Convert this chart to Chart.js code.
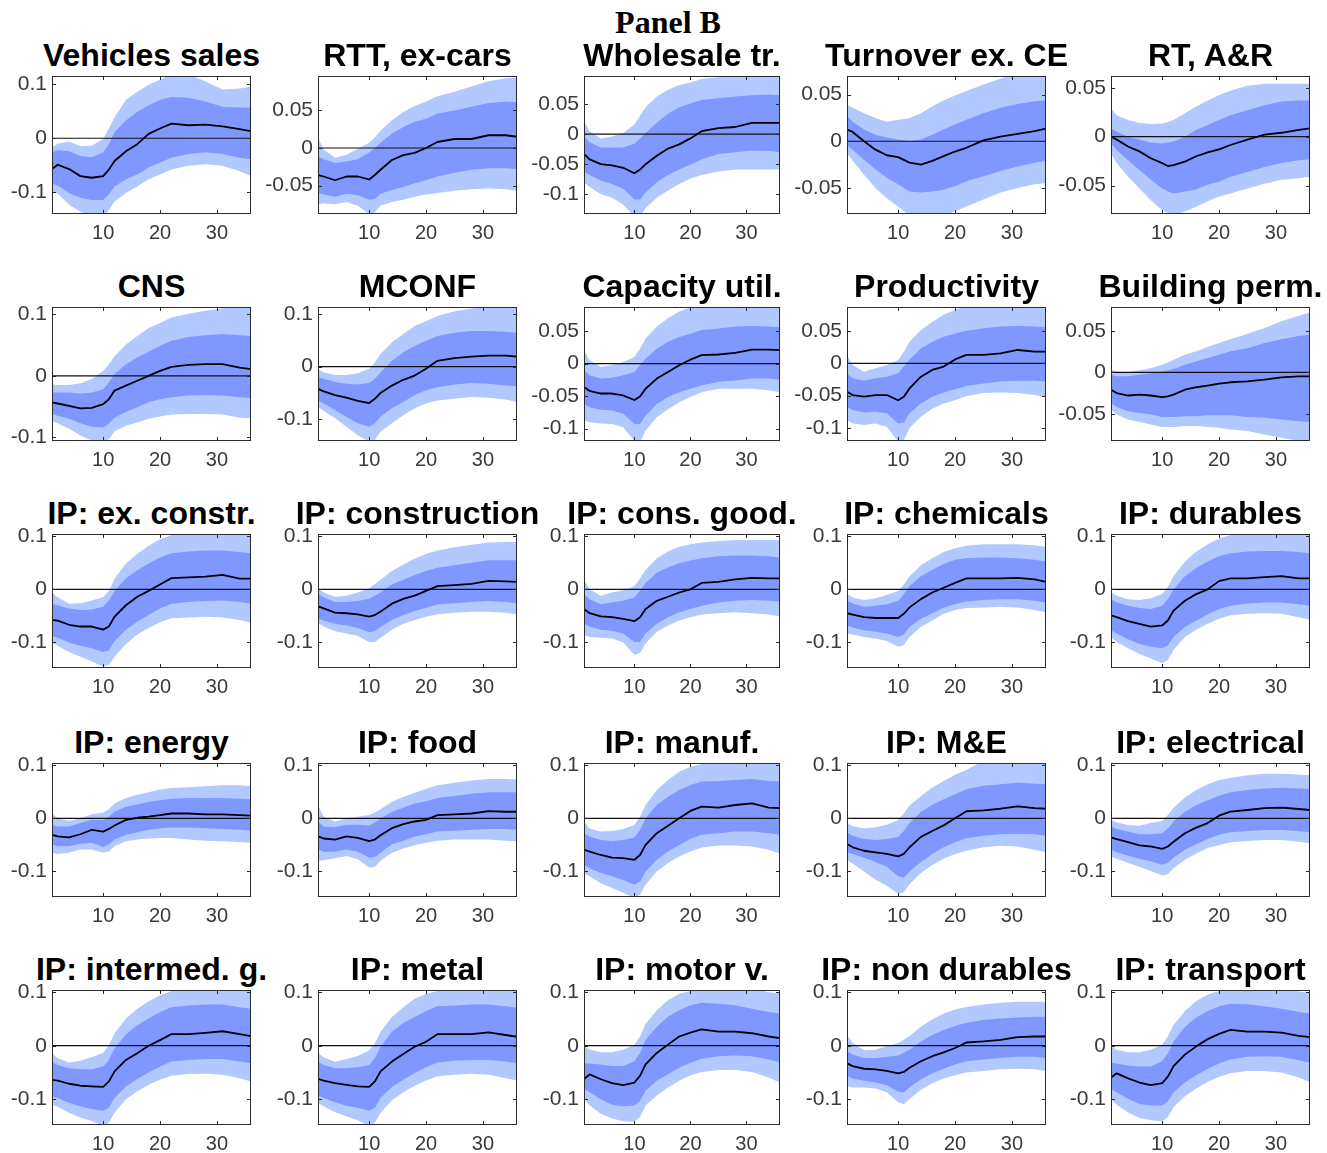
<!DOCTYPE html>
<html><head><meta charset="utf-8">
<script src="https://cdn.jsdelivr.net/npm/chart.js@4.4.0/dist/chart.umd.min.js"></script>
<style>
html,body{margin:0;padding:0;background:#fff;}
body{width:1327px;height:1153px;position:relative;overflow:hidden;font-family:"Liberation Sans",Arial,sans-serif;}
.t{position:absolute;width:320px;text-align:center;font-weight:bold;font-size:32px;line-height:34px;color:#000;white-space:nowrap;}
#pb{position:absolute;left:468px;width:400px;top:4px;text-align:center;font-family:"Liberation Serif","DejaVu Serif",serif;font-weight:bold;font-size:32px;line-height:36px;color:#000;}
canvas{position:absolute;}
</style></head><body>
<div id="pb">Panel B</div>
<script>
// horizon grid (months)
const X = [1,2,4,6,8,10,11,12,14,16,18,20,22,25,28,31,34,36];
const TITLES = ["Vehicles sales","RTT, ex-cars","Wholesale tr.","Turnover ex. CE","RT, A&R",
 "CNS","MCONF","Capacity util.","Productivity","Building perm.",
 "IP: ex. constr.","IP: construction","IP: cons. good.","IP: chemicals","IP: durables",
 "IP: energy","IP: food","IP: manuf.","IP: M&E","IP: electrical",
 "IP: intermed. g.","IP: metal","IP: motor v.","IP: non durables","IP: transport"];
const Y_MIN = [-0.14,-0.088,-0.133,-0.078,-0.079,-0.106,-0.141,-0.119,-0.12,-0.083,
 -0.148,-0.148,-0.148,-0.148,-0.148,-0.148,-0.148,-0.148,-0.148,-0.148,-0.148,-0.148,-0.148,-0.148,-0.148];
const Y_MAX = [0.115,0.096,0.097,0.07,0.062,0.112,0.113,0.087,0.087,0.079,
 0.104,0.104,0.104,0.104,0.104,0.104,0.104,0.104,0.104,0.104,0.104,0.104,0.104,0.104,0.104];
const T1 = [-0.1,0,0.1], T2 = [-0.05,0,0.05], T3 = [-0.1,-0.05,0,0.05];
const Y_TICKS = [T1,T2,T3,T2,T2,T1,T1,T3,T3,T2,T1,T1,T1,T1,T1,T1,T1,T1,T1,T1,T1,T1,T1,T1,T1];
const X_TICKS = [10,20,30];

// med = median, hi1/lo1 = inner band, hi2/lo2 = outer band
const p01_med=[-0.057,-0.049,-0.057,-0.070,-0.073,-0.070,-0.058,-0.042,-0.024,-0.011,0.008,0.018,0.027,0.024,0.025,0.022,0.017,0.013];
const p01_hi1=[-0.026,-0.022,-0.024,-0.033,-0.035,-0.026,-0.011,0.011,0.033,0.049,0.061,0.071,0.076,0.075,0.068,0.058,0.057,0.057];
const p01_lo1=[-0.083,-0.088,-0.101,-0.110,-0.114,-0.114,-0.104,-0.089,-0.076,-0.067,-0.054,-0.045,-0.036,-0.029,-0.026,-0.029,-0.036,-0.039];
const p01_hi2=[-0.017,-0.010,-0.006,-0.015,-0.014,-0.001,0.018,0.039,0.071,0.086,0.099,0.108,0.118,0.118,0.105,0.090,0.092,0.095];
const p01_lo2=[-0.098,-0.102,-0.123,-0.136,-0.145,-0.145,-0.133,-0.117,-0.101,-0.089,-0.076,-0.067,-0.058,-0.051,-0.048,-0.051,-0.061,-0.070];

const p02_med=[-0.036,-0.038,-0.043,-0.038,-0.038,-0.042,-0.036,-0.029,-0.016,-0.0095,-0.0064,0,0.008,0.012,0.012,0.017,0.017,0.015];
const p02_hi1=[-0.011,-0.015,-0.020,-0.018,-0.015,-0.006,0,0.007,0.019,0.028,0.035,0.039,0.046,0.050,0.055,0.060,0.062,0.061];
const p02_lo1=[-0.060,-0.062,-0.065,-0.061,-0.063,-0.069,-0.068,-0.061,-0.056,-0.052,-0.047,-0.043,-0.038,-0.033,-0.029,-0.027,-0.027,-0.028];
const p02_hi2=[0.014,-0.002,-0.013,-0.009,-0.001,0.007,0.014,0.023,0.037,0.048,0.056,0.062,0.069,0.075,0.082,0.089,0.093,0.094];
const p02_lo2=[-0.075,-0.074,-0.075,-0.072,-0.077,-0.088,-0.086,-0.077,-0.072,-0.069,-0.065,-0.062,-0.060,-0.057,-0.055,-0.054,-0.055,-0.057];

const p03_med=[-0.033,-0.042,-0.050,-0.052,-0.056,-0.065,-0.059,-0.050,-0.036,-0.024,-0.017,-0.007,0.005,0.010,0.012,0.019,0.019,0.019];
const p03_hi1=[-0.004,-0.013,-0.022,-0.022,-0.022,-0.016,-0.007,0.002,0.019,0.034,0.045,0.051,0.057,0.060,0.063,0.065,0.066,0.065];
const p03_lo1=[-0.062,-0.068,-0.077,-0.083,-0.091,-0.109,-0.109,-0.097,-0.080,-0.068,-0.059,-0.051,-0.042,-0.033,-0.030,-0.027,-0.028,-0.030];
const p03_hi2=[0.022,0.005,-0.007,-0.004,0.002,0.016,0.031,0.045,0.063,0.074,0.082,0.086,0.092,0.095,0.099,0.100,0.100,0.100];
const p03_lo2=[-0.080,-0.088,-0.100,-0.106,-0.117,-0.138,-0.138,-0.123,-0.106,-0.094,-0.083,-0.074,-0.068,-0.062,-0.059,-0.059,-0.059,-0.059];

const p04_med=[0.0125,0.010,0,-0.009,-0.015,-0.017,-0.020,-0.023,-0.025,-0.021,-0.016,-0.011,-0.007,0.001,0.005,0.008,0.011,0.0135];
const p04_hi1=[0.027,0.021,0.0125,0.007,0.004,0.002,0.001,0,0.002,0.007,0.0125,0.018,0.023,0.030,0.036,0.040,0.043,0.044];
const p04_lo1=[-0.004,-0.009,-0.020,-0.030,-0.039,-0.046,-0.050,-0.054,-0.055,-0.054,-0.052,-0.048,-0.043,-0.0375,-0.032,-0.027,-0.023,-0.021];
const p04_hi2=[0.039,0.036,0.030,0.025,0.021,0.023,0.024,0.025,0.030,0.0375,0.044,0.049,0.054,0.061,0.067,0.073,0.076,0.077];
const p04_lo2=[-0.0125,-0.021,-0.036,-0.050,-0.061,-0.070,-0.075,-0.080,-0.082,-0.082,-0.080,-0.075,-0.070,-0.0625,-0.055,-0.050,-0.046,-0.045];

const p05_med=[0,-0.003,-0.010,-0.015,-0.022,-0.027,-0.030,-0.029,-0.0255,-0.020,-0.016,-0.013,-0.0085,-0.003,0.002,0.004,0.007,0.0085];
const p05_hi1=[0.0085,0.005,0,-0.003,-0.006,-0.007,-0.006,-0.005,0,0.007,0.012,0.017,0.022,0.027,0.032,0.036,0.037,0.037];
const p05_lo1=[-0.007,-0.0135,-0.024,-0.034,-0.044,-0.053,-0.056,-0.058,-0.056,-0.054,-0.049,-0.046,-0.041,-0.036,-0.031,-0.027,-0.024,-0.023];
const p05_hi2=[0.029,0.022,0.017,0.014,0.013,0.0135,0.015,0.017,0.024,0.031,0.037,0.0425,0.047,0.052,0.054,0.054,0.054,0.054];
const p05_lo2=[-0.017,-0.027,-0.041,-0.053,-0.065,-0.075,-0.078,-0.081,-0.0765,-0.0715,-0.066,-0.061,-0.058,-0.053,-0.048,-0.044,-0.0425,-0.041];

const p06_med=[-0.043,-0.045,-0.049,-0.053,-0.052,-0.046,-0.038,-0.024,-0.016,-0.008,0,0.008,0.0146,0.018,0.019,0.019,0.0135,0.011];
const p06_hi1=[-0.027,-0.027,-0.027,-0.029,-0.027,-0.022,-0.011,0.003,0.019,0.030,0.039,0.049,0.057,0.063,0.066,0.068,0.066,0.065];
const p06_lo1=[-0.062,-0.065,-0.070,-0.077,-0.083,-0.084,-0.078,-0.068,-0.059,-0.051,-0.043,-0.038,-0.035,-0.032,-0.031,-0.032,-0.035,-0.036];
const p06_hi2=[-0.0135,-0.015,-0.015,-0.012,-0.005,0.008,0.019,0.032,0.051,0.065,0.078,0.086,0.095,0.101,0.106,0.110,0.112,0.112];
const p06_lo2=[-0.073,-0.077,-0.086,-0.097,-0.105,-0.108,-0.103,-0.090,-0.081,-0.076,-0.070,-0.066,-0.063,-0.062,-0.062,-0.063,-0.068,-0.069];

const p07_med=[-0.042,-0.047,-0.054,-0.059,-0.065,-0.069,-0.061,-0.050,-0.036,-0.025,-0.017,-0.004,0.011,0.016,0.019,0.021,0.021,0.019];
const p07_hi1=[-0.020,-0.023,-0.029,-0.0325,-0.034,-0.031,-0.023,-0.011,0.011,0.027,0.039,0.049,0.058,0.064,0.0675,0.0675,0.066,0.064];
const p07_lo1=[-0.064,-0.070,-0.0825,-0.095,-0.1075,-0.114,-0.1075,-0.095,-0.079,-0.067,-0.054,-0.045,-0.039,-0.034,-0.031,-0.0325,-0.036,-0.0375];
const p07_hi2=[-0.004,-0.011,-0.016,-0.016,-0.0125,-0.004,0.008,0.024,0.046,0.062,0.077,0.086,0.096,0.105,0.110,0.115,0.115,0.115];
const p07_lo2=[-0.076,-0.084,-0.098,-0.114,-0.130,-0.142,-0.139,-0.123,-0.1075,-0.092,-0.079,-0.070,-0.064,-0.061,-0.0575,-0.059,-0.0625,-0.067];

const p08_med=[-0.036,-0.042,-0.046,-0.046,-0.049,-0.056,-0.0505,-0.0387,-0.023,-0.013,-0.0026,0.006,0.013,0.014,0.0165,0.0216,0.0216,0.0206];
const p08_hi1=[-0.0103,-0.018,-0.023,-0.0216,-0.018,-0.013,-0.0026,0.0077,0.023,0.0335,0.041,0.046,0.0515,0.054,0.057,0.058,0.057,0.0557];
const p08_lo1=[-0.062,-0.067,-0.071,-0.072,-0.077,-0.093,-0.093,-0.080,-0.062,-0.0515,-0.044,-0.0387,-0.0335,-0.028,-0.026,-0.023,-0.023,-0.025];
const p08_hi2=[0.0206,0.005,-0.005,-0.0026,0.0026,0.0103,0.023,0.0387,0.057,0.0696,0.080,0.0866,0.090,0.090,0.090,0.090,0.090,0.090];
const p08_lo2=[-0.0876,-0.090,-0.092,-0.093,-0.098,-0.1186,-0.121,-0.103,-0.0825,-0.070,-0.0593,-0.0515,-0.044,-0.0387,-0.0387,-0.0387,-0.041,-0.044];

const p09_med=[-0.044,-0.049,-0.0515,-0.049,-0.049,-0.057,-0.0515,-0.0387,-0.0206,-0.0103,-0.005,0.006,0.013,0.013,0.0155,0.0206,0.018,0.018];
const p09_hi1=[-0.0155,-0.023,-0.0268,-0.023,-0.0206,-0.0155,-0.005,0.006,0.023,0.0335,0.041,0.046,0.0505,0.054,0.057,0.058,0.057,0.0557];
const p09_lo1=[-0.067,-0.072,-0.076,-0.075,-0.077,-0.093,-0.092,-0.077,-0.062,-0.0515,-0.045,-0.040,-0.035,-0.031,-0.028,-0.0268,-0.0268,-0.028];
const p09_hi2=[0.013,-0.0026,-0.013,-0.0077,-0.0026,0.005,0.018,0.0335,0.0515,0.0644,0.075,0.0825,0.090,0.090,0.090,0.090,0.090,0.090];
const p09_lo2=[-0.0876,-0.093,-0.0954,-0.093,-0.098,-0.121,-0.1186,-0.100,-0.0825,-0.070,-0.062,-0.057,-0.0505,-0.046,-0.045,-0.046,-0.049,-0.0515];

const p10_med=[-0.021,-0.025,-0.028,-0.027,-0.028,-0.030,-0.029,-0.027,-0.021,-0.018,-0.016,-0.0137,-0.012,-0.011,-0.0089,-0.006,-0.0048,-0.0048];
const p10_hi1=[-0.003,-0.0048,-0.0048,-0.003,-0.001,0.001,0.0025,0.004,0.0093,0.0133,0.0173,0.0214,0.0254,0.029,0.0355,0.040,0.044,0.0456];
const p10_lo1=[-0.037,-0.042,-0.047,-0.049,-0.051,-0.054,-0.054,-0.054,-0.053,-0.053,-0.052,-0.052,-0.052,-0.054,-0.055,-0.057,-0.059,-0.060];
const p10_hi2=[0.0032,0.001,0,0.0024,0.005,0.0093,0.012,0.0153,0.0214,0.0254,0.0306,0.0355,0.040,0.0468,0.0536,0.0617,0.0685,0.0726];
const p10_lo2=[-0.045,-0.051,-0.057,-0.060,-0.063,-0.066,-0.066,-0.066,-0.065,-0.065,-0.066,-0.067,-0.069,-0.071,-0.075,-0.079,-0.083,-0.086];

const p11_med=[-0.0576,-0.059,-0.0667,-0.070,-0.070,-0.0758,-0.070,-0.0515,-0.030,-0.014,-0.003,0.009,0.021,0.0224,0.024,0.027,0.020,0.020];
const p11_hi1=[-0.027,-0.030,-0.036,-0.039,-0.038,-0.033,-0.021,-0.003,0.021,0.036,0.0485,0.060,0.068,0.071,0.073,0.073,0.070,0.068];
const p11_lo1=[-0.088,-0.091,-0.100,-0.106,-0.111,-0.118,-0.115,-0.097,-0.076,-0.061,-0.0485,-0.036,-0.027,-0.024,-0.022,-0.021,-0.024,-0.027];
const p11_hi2=[-0.006,-0.015,-0.027,-0.026,-0.021,-0.015,-0.003,0.020,0.0485,0.067,0.082,0.094,0.102,0.108,0.108,0.108,0.108,0.108];
const p11_lo2=[-0.100,-0.106,-0.118,-0.127,-0.136,-0.145,-0.142,-0.127,-0.103,-0.085,-0.073,-0.062,-0.0545,-0.053,-0.0515,-0.053,-0.0576,-0.0636];

const p12_med=[-0.032,-0.036,-0.044,-0.045,-0.047,-0.0515,-0.0485,-0.042,-0.027,-0.018,-0.012,-0.003,0.006,0.008,0.0103,0.016,0.015,0.014];
const p12_hi1=[-0.009,-0.015,-0.024,-0.024,-0.022,-0.018,-0.012,-0.006,0.009,0.018,0.027,0.0345,0.0406,0.045,0.050,0.0545,0.0545,0.0545];
const p12_lo1=[-0.0545,-0.059,-0.065,-0.068,-0.073,-0.0806,-0.079,-0.071,-0.0576,-0.0485,-0.0406,-0.0345,-0.0285,-0.026,-0.024,-0.022,-0.024,-0.026];
const p12_hi2=[0.003,-0.006,-0.014,-0.012,-0.006,0.002,0.010,0.018,0.0345,0.0467,0.0576,0.0667,0.073,0.079,0.084,0.088,0.089,0.089];
const p12_lo2=[-0.0636,-0.070,-0.079,-0.083,-0.088,-0.099,-0.099,-0.091,-0.076,-0.065,-0.0576,-0.0515,-0.047,-0.044,-0.042,-0.042,-0.044,-0.047];

const p13_med=[-0.037,-0.045,-0.051,-0.0525,-0.0555,-0.060,-0.0525,-0.037,-0.0216,-0.014,-0.006,0,0.012,0.014,0.0185,0.0216,0.0204,0.0204];
const p13_hi1=[-0.009,-0.0185,-0.028,-0.025,-0.0216,-0.0154,-0.003,0.012,0.031,0.041,0.049,0.054,0.0586,0.062,0.0636,0.0636,0.062,0.060];
const p13_lo1=[-0.065,-0.070,-0.076,-0.078,-0.083,-0.099,-0.099,-0.083,-0.065,-0.0525,-0.043,-0.037,-0.031,-0.025,-0.0216,-0.020,-0.0216,-0.023];
const p13_hi2=[0.0185,0,-0.0123,-0.006,-0.002,0.006,0.0204,0.037,0.0586,0.071,0.080,0.0846,0.088,0.091,0.0926,0.0926,0.0926,0.0926];
const p13_lo2=[-0.0864,-0.0895,-0.091,-0.0926,-0.100,-0.123,-0.120,-0.102,-0.080,-0.068,-0.0586,-0.0525,-0.0475,-0.045,-0.043,-0.045,-0.0475,-0.051];

const p14_med=[-0.045,-0.0475,-0.0525,-0.054,-0.054,-0.054,-0.046,-0.034,-0.0185,-0.006,0.003,0.012,0.0204,0.0204,0.0204,0.0216,0.0185,0.014];
const p14_hi1=[-0.0216,-0.0265,-0.0327,-0.031,-0.028,-0.0216,-0.009,0.006,0.0247,0.037,0.0475,0.0555,0.0586,0.060,0.060,0.0586,0.0555,0.0525];
const p14_lo1=[-0.068,-0.072,-0.077,-0.080,-0.083,-0.0895,-0.085,-0.071,-0.0555,-0.045,-0.034,-0.028,-0.023,-0.020,-0.0185,-0.0185,-0.0216,-0.0247];
const p14_hi2=[-0.009,-0.0154,-0.020,-0.0167,-0.0105,-0.003,0.009,0.0247,0.045,0.0586,0.070,0.077,0.082,0.0846,0.0846,0.0846,0.083,0.080];
const p14_lo2=[-0.082,-0.085,-0.0895,-0.0926,-0.097,-0.108,-0.105,-0.0895,-0.071,-0.0586,-0.046,-0.039,-0.035,-0.034,-0.0327,-0.034,-0.039,-0.043];

const p15_med=[-0.049,-0.0525,-0.060,-0.065,-0.070,-0.068,-0.0586,-0.040,-0.0216,-0.009,0,0.0154,0.0204,0.0204,0.0228,0.0247,0.0204,0.0204];
const p15_hi1=[-0.0185,-0.025,-0.031,-0.035,-0.037,-0.031,-0.0185,0,0.0247,0.040,0.0525,0.062,0.068,0.071,0.072,0.072,0.070,0.068];
const p15_lo1=[-0.077,-0.083,-0.094,-0.103,-0.108,-0.111,-0.105,-0.0895,-0.071,-0.0586,-0.0475,-0.037,-0.031,-0.0265,-0.0247,-0.0247,-0.028,-0.031];
const p15_hi2=[-0.006,-0.0123,-0.0185,-0.020,-0.0167,-0.009,0.0043,0.0247,0.0525,0.071,0.0846,0.0957,0.102,0.108,0.108,0.108,0.108,0.108];
const p15_lo2=[-0.0895,-0.099,-0.111,-0.1216,-0.130,-0.139,-0.133,-0.114,-0.0895,-0.076,-0.065,-0.0555,-0.049,-0.046,-0.045,-0.046,-0.0525,-0.057];

const p16_med=[-0.031,-0.034,-0.036,-0.030,-0.0216,-0.025,-0.020,-0.0136,-0.003,0.001,0.003,0.006,0.009,0.009,0.0074,0.0074,0.006,0.005];
const p16_hi1=[-0.0123,-0.0154,-0.0154,-0.009,-0.003,-0.003,0.003,0.0123,0.0216,0.026,0.031,0.034,0.037,0.038,0.038,0.038,0.037,0.036];
const p16_lo1=[-0.049,-0.0525,-0.0525,-0.048,-0.046,-0.054,-0.049,-0.040,-0.031,-0.026,-0.0216,-0.0185,-0.0173,-0.0173,-0.0185,-0.020,-0.0216,-0.0235];
const p16_hi2=[0.009,0,-0.005,0,0.0074,0.011,0.017,0.028,0.038,0.0444,0.049,0.054,0.057,0.0586,0.0605,0.062,0.062,0.0605];
const p16_lo2=[-0.065,-0.067,-0.065,-0.0586,-0.0586,-0.065,-0.062,-0.0525,-0.043,-0.040,-0.038,-0.037,-0.037,-0.040,-0.042,-0.043,-0.0444,-0.046];

const p17_med=[-0.034,-0.038,-0.040,-0.034,-0.037,-0.043,-0.040,-0.032,-0.0185,-0.011,-0.006,-0.003,0.006,0.0074,0.009,0.0136,0.0123,0.0123];
const p17_hi1=[-0.006,-0.0154,-0.017,-0.0123,-0.0123,-0.0136,-0.008,-0.001,0.0123,0.020,0.028,0.032,0.038,0.042,0.046,0.049,0.049,0.049];
const p17_lo1=[-0.0586,-0.063,-0.063,-0.0586,-0.063,-0.074,-0.073,-0.065,-0.049,-0.042,-0.034,-0.030,-0.025,-0.0235,-0.0216,-0.020,-0.020,-0.0216];
const p17_hi2=[0.0247,0.003,-0.006,0,0.003,0.006,0.011,0.017,0.031,0.040,0.048,0.0556,0.062,0.067,0.071,0.074,0.074,0.073];
const p17_lo2=[-0.080,-0.079,-0.075,-0.071,-0.077,-0.0926,-0.0914,-0.080,-0.065,-0.057,-0.0506,-0.046,-0.042,-0.040,-0.040,-0.040,-0.042,-0.043];

const p18_med=[-0.059,-0.0625,-0.069,-0.074,-0.075,-0.078,-0.069,-0.050,-0.028,-0.0138,0,0.0138,0.022,0.020,0.025,0.028,0.020,0.019];
const p18_hi1=[-0.028,-0.034,-0.0406,-0.0425,-0.0406,-0.036,-0.022,0,0.025,0.0406,0.053,0.0625,0.069,0.070,0.072,0.074,0.070,0.069];
const p18_lo1=[-0.0875,-0.094,-0.103,-0.109,-0.116,-0.125,-0.119,-0.100,-0.078,-0.0625,-0.050,-0.039,-0.031,-0.028,-0.025,-0.025,-0.028,-0.031];
const p18_hi2=[-0.006,-0.019,-0.025,-0.024,-0.020,-0.0125,0.003,0.025,0.053,0.072,0.0875,0.097,0.102,0.108,0.108,0.108,0.108,0.108];
const p18_lo2=[-0.103,-0.109,-0.122,-0.131,-0.140,-0.150,-0.144,-0.125,-0.100,-0.084,-0.072,-0.0625,-0.055,-0.051,-0.051,-0.053,-0.059,-0.066];

const p19_med=[-0.0485,-0.0545,-0.061,-0.064,-0.067,-0.0715,-0.067,-0.0545,-0.035,-0.024,-0.0133,0,0.0133,0.015,0.018,0.0224,0.019,0.018];
const p19_hi1=[-0.027,-0.033,-0.039,-0.041,-0.039,-0.035,-0.024,-0.009,0.012,0.0255,0.036,0.045,0.0545,0.061,0.064,0.067,0.065,0.064];
const p19_lo1=[-0.064,-0.067,-0.074,-0.082,-0.091,-0.109,-0.112,-0.100,-0.082,-0.067,-0.0545,-0.045,-0.0376,-0.033,-0.030,-0.029,-0.030,-0.033];
const p19_hi2=[-0.009,-0.015,-0.019,-0.017,-0.012,-0.003,0.009,0.024,0.042,0.058,0.070,0.082,0.091,0.108,0.108,0.108,0.108,0.108];
const p19_lo2=[-0.079,-0.085,-0.100,-0.115,-0.127,-0.142,-0.139,-0.124,-0.103,-0.088,-0.076,-0.067,-0.061,-0.0545,-0.0515,-0.053,-0.059,-0.064];

const p20_med=[-0.036,-0.039,-0.045,-0.051,-0.053,-0.0575,-0.053,-0.044,-0.028,-0.0175,-0.009,0.005,0.0125,0.0156,0.019,0.020,0.0175,0.0156];
const p20_hi1=[-0.0156,-0.020,-0.025,-0.030,-0.030,-0.028,-0.019,-0.006,0.0125,0.025,0.034,0.0425,0.049,0.053,0.056,0.0575,0.056,0.055];
const p20_lo1=[-0.059,-0.064,-0.070,-0.076,-0.081,-0.0875,-0.084,-0.074,-0.059,-0.049,-0.039,-0.031,-0.026,-0.024,-0.022,-0.022,-0.024,-0.026];
const p20_hi2=[-0.003,-0.0075,-0.0125,-0.014,-0.009,-0.005,0.006,0.020,0.039,0.053,0.064,0.072,0.076,0.081,0.084,0.084,0.0825,0.081];
const p20_lo2=[-0.072,-0.076,-0.084,-0.091,-0.099,-0.1075,-0.105,-0.094,-0.078,-0.066,-0.056,-0.050,-0.045,-0.0425,-0.0406,-0.0406,-0.044,-0.047];

const p21_med=[-0.0636,-0.065,-0.071,-0.0747,-0.076,-0.077,-0.0667,-0.048,-0.0265,-0.0142,0,0.0105,0.0216,0.0216,0.024,0.027,0.0216,0.018];
const p21_hi1=[-0.030,-0.036,-0.042,-0.044,-0.044,-0.039,-0.0265,-0.005,0.0216,0.038,0.0506,0.063,0.072,0.075,0.077,0.077,0.072,0.069];
const p21_lo1=[-0.0944,-0.0975,-0.107,-0.113,-0.118,-0.1216,-0.116,-0.0975,-0.076,-0.0623,-0.050,-0.039,-0.0296,-0.0265,-0.025,-0.025,-0.0296,-0.0327];
const p21_hi2=[-0.014,-0.0235,-0.0315,-0.028,-0.0216,-0.013,0.001,0.023,0.0506,0.069,0.083,0.094,0.102,0.108,0.108,0.108,0.108,0.108];
const p21_lo2=[-0.110,-0.114,-0.125,-0.1346,-0.1407,-0.150,-0.144,-0.125,-0.100,-0.085,-0.073,-0.0636,-0.056,-0.053,-0.0525,-0.054,-0.0605,-0.0667];

const p22_med=[-0.062,-0.065,-0.070,-0.073,-0.076,-0.077,-0.0667,-0.048,-0.0296,-0.0154,-0.002,0.0074,0.0216,0.0216,0.0216,0.025,0.020,0.0167];
const p22_hi1=[-0.030,-0.036,-0.042,-0.042,-0.040,-0.036,-0.0235,-0.002,0.026,0.0426,0.0537,0.065,0.0735,0.075,0.077,0.077,0.0735,0.071];
const p22_lo1=[-0.093,-0.0975,-0.1055,-0.112,-0.116,-0.1216,-0.116,-0.0975,-0.077,-0.0636,-0.051,-0.040,-0.0315,-0.028,-0.0265,-0.0265,-0.0296,-0.0327];
const p22_hi2=[-0.013,-0.0216,-0.030,-0.025,-0.019,-0.009,0.004,0.026,0.0537,0.072,0.0877,0.097,0.102,0.108,0.108,0.108,0.108,0.108];
const p22_lo2=[-0.107,-0.113,-0.124,-0.1315,-0.139,-0.150,-0.144,-0.125,-0.102,-0.087,-0.0747,-0.065,-0.057,-0.054,-0.0525,-0.054,-0.0605,-0.065];

const p23_med=[-0.0626,-0.0534,-0.0626,-0.070,-0.0736,-0.0687,-0.0564,-0.035,-0.0135,0.002,0.0172,0.0245,0.0307,0.0264,0.0264,0.0233,0.0172,0.014];
const p23_hi1=[-0.033,-0.033,-0.035,-0.038,-0.038,-0.0288,-0.0135,0.011,0.0356,0.054,0.066,0.0755,0.080,0.0785,0.0755,0.069,0.063,0.060];
const p23_lo1=[-0.081,-0.087,-0.100,-0.110,-0.113,-0.1117,-0.1025,-0.084,-0.0656,-0.0534,-0.041,-0.032,-0.0245,-0.0196,-0.0184,-0.0196,-0.0258,-0.0307];
const p23_hi2=[-0.001,-0.0074,-0.0123,-0.0123,-0.0074,0.002,0.0172,0.0405,0.066,0.0847,0.097,0.102,0.108,0.108,0.108,0.108,0.100,0.098];
const p23_lo2=[-0.099,-0.1117,-0.127,-0.136,-0.141,-0.142,-0.133,-0.1117,-0.093,-0.078,-0.0656,-0.055,-0.049,-0.0454,-0.0454,-0.049,-0.0595,-0.0687];

const p24_med=[-0.033,-0.038,-0.043,-0.044,-0.047,-0.0515,-0.049,-0.041,-0.029,-0.0196,-0.0123,-0.0043,0.006,0.008,0.011,0.016,0.0172,0.0172];
const p24_hi1=[-0.0104,-0.0166,-0.0227,-0.0227,-0.0208,-0.0184,-0.013,-0.0074,0.008,0.0202,0.0294,0.0368,0.043,0.048,0.051,0.0528,0.054,0.054];
const p24_lo1=[-0.0564,-0.061,-0.0656,-0.0687,-0.0736,-0.086,-0.087,-0.078,-0.0626,-0.0515,-0.043,-0.035,-0.029,-0.0258,-0.0227,-0.0208,-0.0208,-0.0227];
const p24_hi2=[0.020,0.005,-0.0086,-0.0074,-0.001,0.005,0.011,0.018,0.0356,0.049,0.060,0.0675,0.0724,0.077,0.080,0.082,0.082,0.082];
const p24_lo2=[-0.075,-0.078,-0.078,-0.080,-0.087,-0.1055,-0.1086,-0.0994,-0.082,-0.070,-0.061,-0.055,-0.050,-0.047,-0.044,-0.043,-0.044,-0.047];

const p25_med=[-0.0595,-0.0515,-0.061,-0.0687,-0.0736,-0.070,-0.0577,-0.038,-0.0166,-0.0012,0.0123,0.022,0.0294,0.0264,0.0264,0.0245,0.0184,0.016];
const p25_hi1=[-0.032,-0.033,-0.0368,-0.039,-0.039,-0.0288,-0.0147,0.008,0.0356,0.0528,0.065,0.0736,0.0785,0.0773,0.0736,0.069,0.063,0.060];
const p25_lo1=[-0.081,-0.087,-0.099,-0.1086,-0.1117,-0.1117,-0.1043,-0.087,-0.0687,-0.055,-0.043,-0.033,-0.0258,-0.0208,-0.0196,-0.0208,-0.027,-0.032];
const p25_hi2=[-0.001,-0.0074,-0.0123,-0.0123,-0.0074,0.002,0.0172,0.0387,0.065,0.0834,0.0957,0.102,0.108,0.108,0.108,0.108,0.101,0.099];
const p25_lo2=[-0.099,-0.110,-0.1245,-0.135,-0.139,-0.141,-0.133,-0.115,-0.0945,-0.080,-0.0675,-0.0577,-0.0515,-0.047,-0.047,-0.050,-0.0595,-0.0675];

const SERIES = [
 [p01_med,p01_hi1,p01_lo1,p01_hi2,p01_lo2],[p02_med,p02_hi1,p02_lo1,p02_hi2,p02_lo2],
 [p03_med,p03_hi1,p03_lo1,p03_hi2,p03_lo2],[p04_med,p04_hi1,p04_lo1,p04_hi2,p04_lo2],
 [p05_med,p05_hi1,p05_lo1,p05_hi2,p05_lo2],[p06_med,p06_hi1,p06_lo1,p06_hi2,p06_lo2],
 [p07_med,p07_hi1,p07_lo1,p07_hi2,p07_lo2],[p08_med,p08_hi1,p08_lo1,p08_hi2,p08_lo2],
 [p09_med,p09_hi1,p09_lo1,p09_hi2,p09_lo2],[p10_med,p10_hi1,p10_lo1,p10_hi2,p10_lo2],
 [p11_med,p11_hi1,p11_lo1,p11_hi2,p11_lo2],[p12_med,p12_hi1,p12_lo1,p12_hi2,p12_lo2],
 [p13_med,p13_hi1,p13_lo1,p13_hi2,p13_lo2],[p14_med,p14_hi1,p14_lo1,p14_hi2,p14_lo2],
 [p15_med,p15_hi1,p15_lo1,p15_hi2,p15_lo2],[p16_med,p16_hi1,p16_lo1,p16_hi2,p16_lo2],
 [p17_med,p17_hi1,p17_lo1,p17_hi2,p17_lo2],[p18_med,p18_hi1,p18_lo1,p18_hi2,p18_lo2],
 [p19_med,p19_hi1,p19_lo1,p19_hi2,p19_lo2],[p20_med,p20_hi1,p20_lo1,p20_hi2,p20_lo2],
 [p21_med,p21_hi1,p21_lo1,p21_hi2,p21_lo2],[p22_med,p22_hi1,p22_lo1,p22_hi2,p22_lo2],
 [p23_med,p23_hi1,p23_lo1,p23_hi2,p23_lo2],[p24_med,p24_hi1,p24_lo1,p24_hi2,p24_lo2],
 [p25_med,p25_hi1,p25_lo1,p25_hi2,p25_lo2]];

// layout (pixels)
const COL_LEFT=[52,318,584,847,1111], COL_W=[199,199,196,199,199];
const ROW_TOP=[76,307,534,763,990], ROW_H=[138,134,134,134,135];
const YW=52, XH=36, PADT=18, PADR=12;
const LIGHT='rgb(178,201,255)', DARK='rgb(127,152,255)', NONE='rgba(0,0,0,0)';
const TICK_COLOR='#3a3a3a';

Chart.defaults.font.family='"Liberation Sans", Arial, sans-serif';

const boxPlugin={id:'box',afterDatasetsDraw(chart){
  const {ctx,chartArea:a,scales}=chart; const L=4;
  ctx.save(); ctx.strokeStyle='#2b2b2b'; ctx.lineWidth=1;
  ctx.strokeRect(a.left+0.5,a.top+0.5,a.right-a.left-1,a.bottom-a.top-1);
  ctx.beginPath();
  for(const v of X_TICKS){const p=Math.round(scales.x.getPixelForValue(v))+0.5;
    ctx.moveTo(p,a.bottom);ctx.lineTo(p,a.bottom-L);ctx.moveTo(p,a.top);ctx.lineTo(p,a.top+L);}
  for(const t of scales.y.ticks){const p=Math.round(scales.y.getPixelForValue(t.value))+0.5;
    ctx.moveTo(a.left,p);ctx.lineTo(a.left+L,p);ctx.moveTo(a.right,p);ctx.lineTo(a.right-L,p);}
  ctx.stroke(); ctx.restore();
}};

function pts(ys){return X.map((x,i)=>({x:x,y:ys[i]}));}

for(let k=0;k<25;k++){
  const r=Math.floor(k/5), c=k%5;
  const w=COL_W[c], h=ROW_H[r];
  const [med,hi1,lo1,hi2,lo2]=SERIES[k];
  const title=document.createElement('div'); title.className='t';
  title.textContent=TITLES[k];
  title.style.left=(COL_LEFT[c]+w/2-160)+'px'; title.style.top=(ROW_TOP[r]-38)+'px';
  document.body.appendChild(title);
  const cv=document.createElement('canvas');
  let cw=w+YW+PADR, ch=h+PADT+XH;
  cv.width=cw; cv.height=ch; cv.style.width=cw+'px'; cv.style.height=ch+'px';
  document.body.appendChild(cv);
  const yt=Y_TICKS[k];
  const chart=new Chart(cv,{type:'line',
    data:{datasets:[
      {data:pts(med),borderColor:'#000',borderWidth:1.8,pointRadius:0,fill:false,clip:0,tension:0},
      {data:[{x:1,y:0},{x:36,y:0}],borderColor:'#111',borderWidth:1.2,pointRadius:0,fill:false,clip:0},
      {data:pts(hi1),borderColor:NONE,borderWidth:0,pointRadius:0,backgroundColor:DARK,fill:'+1',clip:0},
      {data:pts(lo1),borderColor:NONE,borderWidth:0,pointRadius:0,fill:false,clip:0},
      {data:pts(hi2),borderColor:NONE,borderWidth:0,pointRadius:0,backgroundColor:LIGHT,fill:'+1',clip:0},
      {data:pts(lo2),borderColor:NONE,borderWidth:0,pointRadius:0,fill:false,clip:0}
    ]},
    options:{responsive:false,animation:false,devicePixelRatio:1,
      layout:{padding:{top:PADT,right:PADR,left:0,bottom:0}},
      plugins:{legend:{display:false},tooltip:{enabled:false},title:{display:false}},
      elements:{line:{borderJoinStyle:'round'}},
      scales:{
        x:{type:'linear',min:1,max:36,
          afterBuildTicks:s=>{s.ticks=X_TICKS.map(v=>({value:v}));},
          afterFit:s=>{s.height=XH;},
          grid:{display:false,drawTicks:false},border:{display:false},
          ticks:{autoSkip:false,maxRotation:0,padding:7,color:TICK_COLOR,font:{size:20},callback:v=>String(v)}},
        y:{type:'linear',min:Y_MIN[k],max:Y_MAX[k],
          afterBuildTicks:s=>{s.ticks=yt.map(v=>({value:v}));},
          afterFit:s=>{s.width=YW;},
          grid:{display:false,drawTicks:false},border:{display:false},
          ticks:{autoSkip:false,padding:5,color:TICK_COLOR,font:{size:21},callback:v=>String(v)}}
      }},
    plugins:[boxPlugin]});
  let a=chart.chartArea;
  const dw=w-(a.right-a.left), dh=h-(a.bottom-a.top);
  if(Math.abs(dw)>0.5||Math.abs(dh)>0.5){cw+=dw;ch+=dh;chart.resize(cw,ch);a=chart.chartArea;}
  cv.style.left=(COL_LEFT[c]-a.left)+'px'; cv.style.top=(ROW_TOP[r]-a.top)+'px';
}
</script>
</body></html>
